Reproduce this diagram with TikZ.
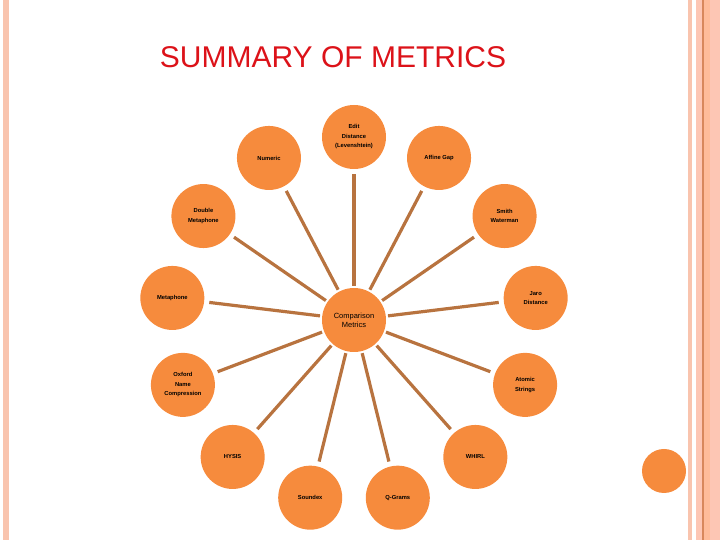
\documentclass[tikz,border=0pt]{standalone}
\usepackage{fontspec}
\setmainfont{Liberation Sans}
\usetikzlibrary{calc}
\definecolor{dotorange}{HTML}{F68B3D}
\definecolor{spokebrown}{HTML}{B8733F}
\definecolor{titlered}{HTML}{DC1219}
\definecolor{edgepink}{HTML}{F9C4AE}
\definecolor{edgepeach}{HTML}{FDC6B4}
\definecolor{edgeglow}{HTML}{FEBB9A}
\definecolor{edgeline}{HTML}{D8875C}

\begin{document}
\begin{tikzpicture}[x=1pt,y=1pt,
  metric/.style={circle,fill=dotorange,minimum size=64pt,inner sep=0pt,align=center,
    font=\fontsize{5.8}{9.5}\selectfont\bfseries},
  spoke/.style={draw=spokebrown,line width=3.2pt,shorten <=2pt,shorten >=5pt}]
\useasboundingbox (0,0) rectangle (720,540);

%page edges
\fill[edgepink] (3,0) rectangle (9,540);
\fill[edgepink] (688,0) rectangle (692,540);
\fill[edgepeach] (696,0) rectangle (720,540);
\fill[edgeline] (702,0) rectangle (703.5,540);
\fill[edgeglow] (703.5,0) rectangle (710,540);

\node[text=titlered,font=\fontsize{30}{33}\selectfont] (t) at (333,483) {SUMMARY OF METRICS};

\coordinate (c) at (354,220);

\node[metric,font=\fontsize{7.5}{9}\selectfont] (O) at (c) {Comparison\\Metrics};

\node[metric] (a) at ($(c)+(90:183)$) {Edit\\Distance\\(Levenshtein)};
\node[metric] (b) at ($(c)+(62.31:183)$) {Affine Gap};
\node[metric] (d) at ($(c)+(34.62:183)$) {Smith\\Waterman};
\node[metric] (e) at ($(c)+(6.92:183)$) {Jaro\\Distance};
\node[metric] (f) at ($(c)+(339.23:183)$) {Atomic\\Strings};
\node[metric] (g) at ($(c)+(311.54:183)$) {WHIRL};
\node[metric] (h) at ($(c)+(283.85:183)$) {Q-Grams};
\node[metric] (i) at ($(c)+(256.15:183)$) {Soundex};
\node[metric] (j) at ($(c)+(228.46:183)$) {HYSIS};
\node[metric] (k) at ($(c)+(200.77:183)$) {Oxford\\Name\\Compression};
\node[metric] (l) at ($(c)+(173.08:183)$) {Metaphone};
\node[metric] (m) at ($(c)+(145.38:183)$) {Double\\Metaphone};
\node[metric] (n) at ($(c)+(117.69:183)$) {Numeric};

\draw[spoke] (O) -- (a); \draw[spoke] (O) -- (b); \draw[spoke] (O) -- (d);
\draw[spoke] (O) -- (e); \draw[spoke] (O) -- (f); \draw[spoke] (O) -- (g);
\draw[spoke] (O) -- (h); \draw[spoke] (O) -- (i); \draw[spoke] (O) -- (j);
\draw[spoke] (O) -- (k); \draw[spoke] (O) -- (l); \draw[spoke] (O) -- (m);
\draw[spoke] (O) -- (n);

\node[circle,fill=dotorange,minimum size=44pt,inner sep=0pt] (p) at (664,69) {};

\end{tikzpicture}
\end{document}
